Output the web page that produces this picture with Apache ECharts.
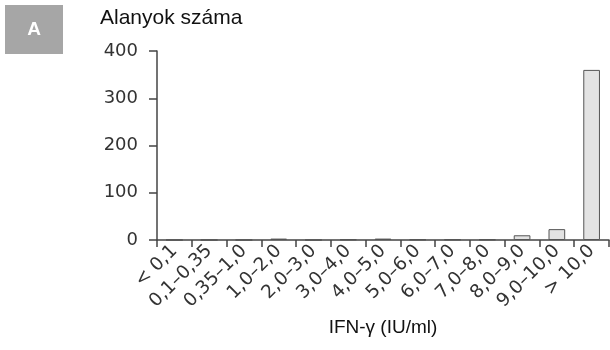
<!DOCTYPE html>
<html>
<head>
<meta charset="utf-8">
<script src="https://cdn.jsdelivr.net/npm/echarts@6/dist/echarts.min.js"></script>
<style>
  html, body { margin: 0; padding: 0; background: #fff; }
  #chart { width: 610px; height: 350px; }
</style>
</head>
<body>
<div id="chart"></div>
<script>
const categories = ['< 0,1', '0,1–0,35', '0,35–1,0', '1,0–2,0', '2,0–3,0', '3,0–4,0', '4,0–5,0',
  '5,0–6,0', '6,0–7,0', '7,0–8,0', '8,0–9,0', '9,0–10,0', '> 10,0'];
const counts = [0, 0, 0, 3, 0, 1, 3, 1, 1, 1, 10, 23, 360];
const yTicks = [0, 100, 200, 300, 400];

const chart = echarts.init(document.getElementById('chart'), null, { renderer: 'canvas' });

chart.setOption({
    animation: false,
    backgroundColor: '#fff',
    graphic: [
        {
            type: 'rect',
            left: 5, top: 5,
            shape: { width: 58, height: 49 },
            style: { fill: '#a6a6a6' }
        },
        {
            type: 'text',
            x: 34, y: 30,
            style: {
                text: 'A', fill: '#fff', font: 'bold 19px "Liberation Sans", Arial',
                align: 'center', verticalAlign: 'middle'
            }
        },
        {
            type: 'text',
            x: 100, y: 18,
            style: {
                text: 'Alanyok száma', fill: '#111', font: '21px "Liberation Sans", Arial',
                verticalAlign: 'middle'
            }
        }
    ],
    grid: {
        left: 157,
        right: 1,
        top: 51,
        bottom: 110
    },
    xAxis: {
        type: 'category',
        data: categories,
        name: 'IFN-γ (IU/ml)',
        nameLocation: 'middle',
        nameGap: 67,
        nameTextStyle: { color: '#111', fontSize: 19, fontFamily: 'Liberation Sans' },
        axisLine: { lineStyle: { color: '#444', width: 1.5 } },
        axisTick: { show: true, length: 7, lineStyle: { color: '#444', width: 1.5 } },
        axisLabel: {
            rotate: 45,
            interval: 0,
            margin: 8,
            color: '#333',
            fontSize: 18.5,
            fontFamily: 'DejaVu Sans'
        }
    },
    yAxis: {
        type: 'value',
        min: 0,
        max: 400,
        interval: 100,
        axisLine: { show: true, lineStyle: { color: '#444', width: 1.5 } },
        axisTick: { show: true, length: 8, lineStyle: { color: '#444', width: 1.5 } },
        axisLabel: {
            margin: 19,
            color: '#333',
            fontSize: 18,
            fontFamily: 'DejaVu Sans',
            formatter: v => yTicks.includes(v) ? String(v) : ''
        },
        splitLine: { show: false }
    },
    series: [{
        type: 'bar',
        data: counts,
        barWidth: '48%',
        itemStyle: {
            color: '#e3e3e3',
            borderColor: '#555',
            borderWidth: 1
        }
    }]
});
</script>
</body>
</html>
